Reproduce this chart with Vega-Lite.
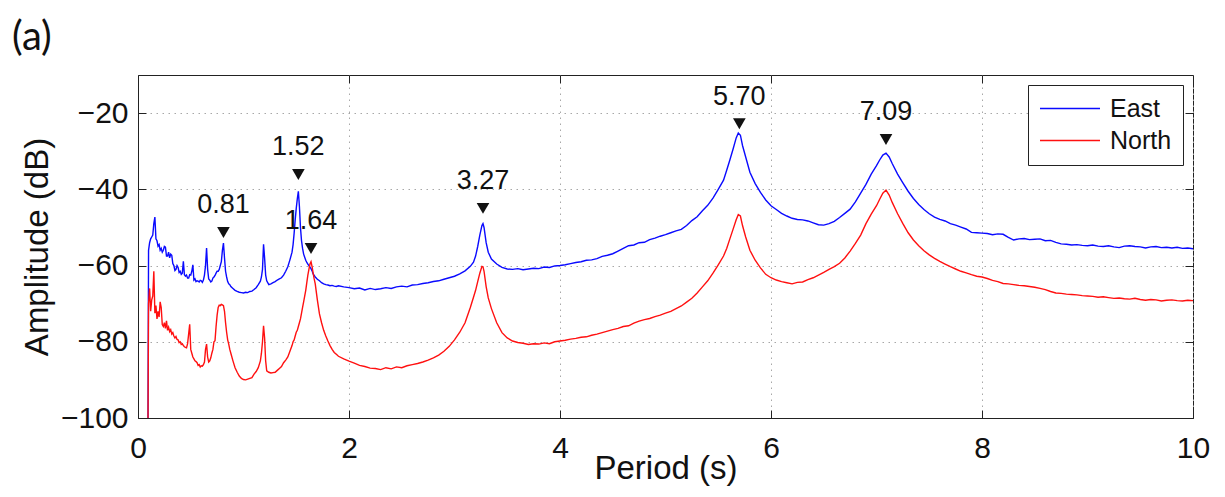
{
  "$schema": "https://vega.github.io/schema/vega-lite/v6.json",
  "width": 1055,
  "height": 343,
  "autosize": "none",
  "padding": {"left": 138, "top": 75, "right": 32, "bottom": 79},
  "background": "white",
  "title": {"text": "(a)", "anchor": "start", "frame": "group", "dx": -126, "dy": 43, "offset": 28, "baseline": "alphabetic", "font": "Lato", "fontSize": 40, "fontWeight": "normal", "color": "#111"},
  "config": {
    "view": {"stroke": "#222", "strokeWidth": 1},
    "axis": {
      "domainColor": "#222", "tickColor": "#222", "labelFont": "Liberation Sans", "titleFont": "Liberation Sans",
      "labelColor": "#111", "titleColor": "#111", "labelFontSize": 30, "titleFontSize": 33, "titleFontWeight": "normal",
      "gridDash": [1.5, 4.5], "gridColor": "#a8a8a8", "gridWidth": 1, "tickSize": -8, "labelFlush": false, "labelOverlap": false
    },
    "legend": {
      "orient": "top-right", "offset": 10, "strokeColor": "#222", "fillColor": "white", "padding": 11,
      "labelFont": "Liberation Sans", "labelFontSize": 25, "labelColor": "#111", "labelOffset": 9,
      "symbolType": "stroke", "symbolSize": 3600, "symbolStrokeWidth": 1.5, "clipHeight": 25, "rowPadding": 6
    }
  },
  "resolve": {"axis": {"x": "independent", "y": "independent"}},
  "layer": [
    {
      "data": {"values": [
        {"p":0.095,"East":-100,"North":-100},
        {"p":0.10,"East":-56,"North":-70},{"p":0.11,"East":-54,"North":-66},{"p":0.12,"East":-53,"North":-72},{"p":0.13,"East":-52.5,"North":-69},{"p":0.14,"East":-52,"North":-68},
        {"p":0.15,"East":-49,"North":-61.5},{"p":0.16,"East":-47.3,"North":-72.5},{"p":0.17,"East":-53,"North":-70.5},{"p":0.18,"East":-53.5,"North":-74},{"p":0.19,"East":-54.9,"North":-72},
        {"p":0.20,"East":-54.5,"North":-73.5},{"p":0.21,"East":-56,"North":-69.5},{"p":0.22,"East":-55.5,"North":-71},{"p":0.23,"East":-56.5,"North":-75.5},{"p":0.24,"East":-56,"North":-76},
        {"p":0.25,"East":-55,"North":-75},{"p":0.26,"East":-55.2,"North":-76.5},{"p":0.27,"East":-57.5,"North":-74.5},{"p":0.28,"East":-57.5,"North":-77},{"p":0.29,"East":-56.5,"North":-76.2},
        {"p":0.30,"East":-58,"North":-77.3},{"p":0.31,"East":-57,"North":-76.8},{"p":0.32,"East":-57.3,"North":-78},{"p":0.33,"East":-59.5,"North":-77.6},{"p":0.34,"East":-60,"North":-78.5},
        {"p":0.35,"East":-61.3,"North":-79},{"p":0.36,"East":-61,"North":-78.6},{"p":0.37,"East":-60,"North":-79.4},{"p":0.38,"East":-60.5,"North":-79.5},{"p":0.39,"East":-61.8,"North":-80.2},
        {"p":0.40,"East":-61.5,"North":-80},{"p":0.41,"East":-62.3,"North":-80.7},{"p":0.42,"East":-62,"North":-80.5},{"p":0.43,"East":-58.9,"North":-81},{"p":0.44,"East":-62.4,"North":-81.3},
        {"p":0.45,"East":-62.8,"North":-81.5},{"p":0.46,"East":-62.5,"North":-81.6},{"p":0.47,"East":-63.3,"North":-80.5},{"p":0.48,"East":-63.3,"North":-78},{"p":0.49,"East":-62.4,"North":-75.4},
        {"p":0.50,"East":-62.5,"North":-82},{"p":0.51,"East":-61.5,"North":-83},{"p":0.52,"East":-59.8,"North":-84},{"p":0.53,"East":-63.8,"North":-84.5},{"p":0.54,"East":-63.5,"North":-85},
        {"p":0.55,"East":-64.2,"North":-85.2},{"p":0.56,"East":-64,"North":-85.5},{"p":0.57,"East":-64.1,"North":-86.2},{"p":0.58,"East":-64.3,"North":-86},{"p":0.59,"East":-63.9,"North":-86.6},
        {"p":0.60,"East":-64,"North":-86.3},{"p":0.61,"East":-64.4,"North":-86.4},{"p":0.62,"East":-63.8,"North":-86},{"p":0.63,"East":-62.5,"North":-85.3},{"p":0.64,"East":-60,"North":-82},
        {"p":0.65,"East":-55.4,"North":-80.6},{"p":0.66,"East":-61,"North":-84},{"p":0.67,"East":-63.5,"North":-85.3},{"p":0.68,"East":-63.8,"North":-85},{"p":0.69,"East":-64.3,"North":-84.2},
        {"p":0.70,"East":-64.1,"North":-83},{"p":0.71,"East":-63.3,"North":-82},{"p":0.72,"East":-63,"North":-80},{"p":0.73,"East":-62.6,"North":-79.7},{"p":0.74,"East":-62,"North":-76},
        {"p":0.75,"East":-61.5,"North":-73},{"p":0.76,"East":-61.5,"North":-71},{"p":0.77,"East":-61,"North":-70.4},{"p":0.78,"East":-60,"North":-70.5},{"p":0.79,"East":-59,"North":-70.2},
        {"p":0.80,"East":-56,"North":-70.3},{"p":0.81,"East":-54.1,"North":-70.5},{"p":0.82,"East":-58,"North":-72},{"p":0.83,"East":-61.5,"North":-75},{"p":0.84,"East":-63,"North":-77.5},
        {"p":0.85,"East":-64.2,"North":-79.5},{"p":0.86,"East":-64.8,"North":-80.6},{"p":0.87,"East":-65,"North":-82},{"p":0.88,"East":-65.5,"North":-83},{"p":0.90,"East":-66,"North":-85},
        {"p":0.92,"East":-66.5,"North":-86.8},{"p":0.94,"East":-66.8,"North":-88},{"p":0.96,"East":-67,"North":-89},{"p":0.98,"East":-67.1,"North":-89.6},{"p":1.00,"East":-67.2,"North":-89.9},
        {"p":1.02,"East":-67,"North":-90},{"p":1.04,"East":-67.1,"North":-89.8},{"p":1.06,"East":-66.8,"North":-89.6},{"p":1.08,"East":-66.7,"North":-89.4},{"p":1.10,"East":-66.3,"North":-88.5},
        {"p":1.12,"East":-65.8,"North":-87.8},{"p":1.14,"East":-65,"North":-86.8},{"p":1.16,"East":-64.1,"North":-85},{"p":1.17,"East":-63,"North":-83},{"p":1.18,"East":-61,"North":-80},
        {"p":1.19,"East":-54.4,"North":-75.8},{"p":1.20,"East":-58,"North":-79},{"p":1.21,"East":-62.5,"North":-85},{"p":1.22,"East":-64,"North":-87.6},{"p":1.24,"East":-65,"North":-88},
        {"p":1.26,"East":-64.8,"North":-88.2},{"p":1.28,"East":-64.5,"North":-88.1},{"p":1.30,"East":-64.2,"North":-88},{"p":1.32,"East":-63.8,"North":-87.5},{"p":1.34,"East":-63.5,"North":-87},
        {"p":1.36,"East":-63.2,"North":-86.5},{"p":1.38,"East":-62.5,"North":-85.5},{"p":1.40,"East":-61.5,"North":-84.8},{"p":1.42,"East":-60.3,"North":-84},{"p":1.44,"East":-58.5,"North":-82.5},
        {"p":1.46,"East":-56.5,"North":-81},{"p":1.47,"East":-54.5,"North":-80},{"p":1.48,"East":-51.5,"North":-79.5},{"p":1.49,"East":-48,"North":-78.5},{"p":1.50,"East":-45,"North":-77.5},
        {"p":1.51,"East":-42.5,"North":-77},{"p":1.52,"East":-40.5,"North":-76},{"p":1.53,"East":-44.5,"North":-75},{"p":1.54,"East":-50,"North":-74},{"p":1.55,"East":-53.5,"North":-72.5},
        {"p":1.56,"East":-55.5,"North":-71},{"p":1.57,"East":-57,"North":-69.5},{"p":1.58,"East":-57.8,"North":-68},{"p":1.59,"East":-58.6,"North":-66.5},{"p":1.60,"East":-59.2,"North":-64.5},
        {"p":1.61,"East":-59.6,"North":-62.5},{"p":1.62,"East":-60,"North":-61},{"p":1.63,"East":-60.4,"North":-59.6},{"p":1.64,"East":-60.8,"North":-59},{"p":1.65,"East":-61.4,"North":-60.3},
        {"p":1.66,"East":-62.2,"North":-62},{"p":1.67,"East":-62.6,"North":-63.5},{"p":1.68,"East":-63,"North":-64.8},{"p":1.70,"East":-63.6,"North":-69},{"p":1.72,"East":-64,"North":-72.7},
        {"p":1.74,"East":-64.5,"North":-75},{"p":1.76,"East":-64.8,"North":-77},{"p":1.78,"East":-65,"North":-78.5},{"p":1.80,"East":-65.1,"North":-79.8},{"p":1.82,"East":-65.3,"North":-81},
        {"p":1.84,"East":-65.2,"North":-82},{"p":1.86,"East":-65.4,"North":-82.8},{"p":1.88,"East":-65.5,"North":-83.3},{"p":1.90,"East":-65.3,"North":-83.8},
        {"p":1.95,"East":-65.6,"North":-84.5},{"p":2.00,"East":-65.8,"North":-85.1},{"p":2.05,"East":-66.1,"North":-85.6},{"p":2.10,"East":-65.9,"North":-86.2},{"p":2.15,"East":-66.4,"North":-86.5},
        {"p":2.20,"East":-66.0,"North":-86.9},{"p":2.25,"East":-66.3,"North":-87.0},{"p":2.30,"East":-66.1,"North":-87.3},{"p":2.35,"East":-65.8,"North":-86.8},{"p":2.40,"East":-66.0,"North":-87.1},
        {"p":2.45,"East":-65.6,"North":-86.6},{"p":2.50,"East":-65.4,"North":-86.8},{"p":2.55,"East":-65.6,"North":-86.3},{"p":2.60,"East":-65.1,"North":-86.0},{"p":2.65,"East":-65.0,"North":-85.7},
        {"p":2.70,"East":-64.7,"North":-85.3},{"p":2.75,"East":-64.5,"North":-84.8},{"p":2.80,"East":-64.2,"North":-84.2},{"p":2.85,"East":-64.0,"North":-83.5},{"p":2.90,"East":-63.6,"North":-82.5},
        {"p":2.95,"East":-63.2,"North":-81.2},{"p":3.00,"East":-62.8,"North":-79.5},{"p":3.05,"East":-62.2,"North":-77.5},{"p":3.10,"East":-61.4,"North":-75},{"p":3.15,"East":-60.2,"North":-71},
        {"p":3.18,"East":-59.1,"North":-68.3},{"p":3.20,"East":-57.5,"North":-66.5},{"p":3.22,"East":-55,"North":-64.2},{"p":3.24,"East":-52,"North":-62},{"p":3.26,"East":-49.5,"North":-60.2},
        {"p":3.27,"East":-49.0,"North":-60.3},{"p":3.28,"East":-50,"North":-61.5},{"p":3.30,"East":-54,"North":-65.5},{"p":3.32,"East":-56.5,"North":-68.5},{"p":3.35,"East":-58.3,"North":-71.3},
        {"p":3.40,"East":-59.6,"North":-75},{"p":3.45,"East":-60.5,"North":-77.6},{"p":3.50,"East":-60.9,"North":-79},{"p":3.55,"East":-61.0,"North":-79.8},{"p":3.60,"East":-60.8,"North":-80.2},
        {"p":3.65,"East":-61.1,"North":-80.4},{"p":3.70,"East":-60.9,"North":-80.7},{"p":3.75,"East":-60.7,"North":-80.5},{"p":3.80,"East":-60.8,"North":-80.6},{"p":3.85,"East":-60.4,"North":-80.3},
        {"p":3.90,"East":-60.5,"North":-80.5},{"p":3.95,"East":-60.1,"North":-80.0},{"p":4.00,"East":-60.0,"North":-79.8},{"p":4.05,"East":-59.8,"North":-79.6},{"p":4.10,"East":-59.5,"North":-79.3},
        {"p":4.15,"East":-59.2,"North":-79.1},{"p":4.20,"East":-59.0,"North":-78.8},{"p":4.25,"East":-58.6,"North":-78.7},{"p":4.30,"East":-58.5,"North":-78.3},{"p":4.35,"East":-58.2,"North":-78.0},
        {"p":4.40,"East":-57.6,"North":-77.6},{"p":4.45,"East":-57.3,"North":-77.2},{"p":4.50,"East":-56.9,"North":-76.8},{"p":4.55,"East":-56.2,"North":-76.5},{"p":4.60,"East":-55.5,"North":-76.0},
        {"p":4.65,"East":-54.8,"North":-75.8},{"p":4.70,"East":-54.6,"North":-75.1},{"p":4.75,"East":-54.0,"North":-74.6},{"p":4.80,"East":-53.9,"North":-74.2},{"p":4.85,"East":-53.2,"North":-73.9},
        {"p":4.90,"East":-52.8,"North":-73.4},{"p":4.95,"East":-52.3,"North":-73.0},{"p":5.00,"East":-51.9,"North":-72.5},{"p":5.05,"East":-51.4,"North":-72.0},{"p":5.10,"East":-50.9,"North":-71.3},
        {"p":5.15,"East":-50.5,"North":-70.6},{"p":5.20,"East":-49.5,"North":-69.6},{"p":5.25,"East":-48.2,"North":-68.6},{"p":5.30,"East":-47.2,"North":-67.2},{"p":5.35,"East":-45.6,"North":-65.6},
        {"p":5.40,"East":-44.2,"North":-64.0},{"p":5.45,"East":-42.3,"North":-62.0},{"p":5.50,"East":-40.0,"North":-59.8},{"p":5.55,"East":-37.6,"North":-57.5},{"p":5.58,"East":-35,"North":-55.5},
        {"p":5.61,"East":-32.3,"North":-53},{"p":5.64,"East":-29.5,"North":-50.5},{"p":5.67,"East":-26.5,"North":-48},{"p":5.69,"East":-25.2,"North":-46.6},{"p":5.71,"East":-25.8,"North":-47},
        {"p":5.73,"East":-28.5,"North":-49.5},{"p":5.76,"East":-31.5,"North":-52.5},{"p":5.80,"East":-35.5,"North":-56},{"p":5.85,"East":-38.5,"North":-58.6},{"p":5.90,"East":-40.8,"North":-60.6},
        {"p":5.95,"East":-42.8,"North":-62.3},{"p":6.00,"East":-44.3,"North":-63.2},{"p":6.05,"East":-45.3,"North":-63.8},{"p":6.10,"East":-46.3,"North":-64.2},{"p":6.15,"East":-47.0,"North":-64.5},
        {"p":6.20,"East":-47.6,"North":-64.8},{"p":6.25,"East":-47.9,"North":-64.4},{"p":6.30,"East":-48.0,"North":-64.3},{"p":6.35,"East":-48.3,"North":-63.7},{"p":6.40,"East":-48.8,"North":-63.2},
        {"p":6.45,"East":-49.3,"North":-62.5},{"p":6.50,"East":-49.4,"North":-61.8},{"p":6.55,"East":-49.0,"North":-61.0},{"p":6.60,"East":-48.4,"North":-60.3},{"p":6.65,"East":-47.4,"North":-59.4},
        {"p":6.70,"East":-46.3,"North":-58.0},{"p":6.75,"East":-45.2,"North":-56.2},{"p":6.80,"East":-43.3,"North":-54.2},{"p":6.85,"East":-41.0,"North":-52.0},{"p":6.90,"East":-38.7,"North":-49.0},
        {"p":6.95,"East":-36.0,"North":-46.5},{"p":7.00,"East":-33.8,"North":-44.3},{"p":7.03,"East":-32.3,"North":-42.6},{"p":7.06,"East":-31.0,"North":-41.0},{"p":7.09,"East":-30.5,"North":-40.2},
        {"p":7.12,"East":-31.5,"North":-41.5},{"p":7.15,"East":-33.3,"North":-43.5},{"p":7.20,"East":-36.0,"North":-46.4},{"p":7.25,"East":-38.3,"North":-49.0},{"p":7.30,"East":-40.5,"North":-51.4},
        {"p":7.35,"East":-42.4,"North":-53.3},{"p":7.40,"East":-44.0,"North":-54.8},{"p":7.45,"East":-45.3,"North":-56.1},{"p":7.50,"East":-46.4,"North":-57.2},{"p":7.55,"East":-47.3,"North":-58.1},
        {"p":7.60,"East":-47.9,"North":-58.9},{"p":7.65,"East":-48.3,"North":-59.6},{"p":7.70,"East":-49.0,"North":-60.3},{"p":7.75,"East":-49.4,"North":-60.9},{"p":7.80,"East":-49.9,"North":-61.5},
        {"p":7.85,"East":-50.4,"North":-61.9},{"p":7.90,"East":-51.3,"North":-62.4},{"p":7.95,"East":-51.4,"North":-62.8},{"p":8.00,"East":-51.5,"North":-63.0},{"p":8.05,"East":-51.6,"North":-63.4},
        {"p":8.10,"East":-51.9,"North":-63.9},{"p":8.15,"East":-51.7,"North":-64.2},{"p":8.20,"East":-51.8,"North":-64.7},{"p":8.25,"East":-52.6,"North":-64.8},{"p":8.30,"East":-53.3,"North":-65.0},
        {"p":8.35,"East":-53.0,"North":-65.2},{"p":8.40,"East":-52.9,"North":-65.3},{"p":8.45,"East":-53.2,"North":-65.5},{"p":8.50,"East":-53.1,"North":-65.7},{"p":8.55,"East":-53.0,"North":-66.0},
        {"p":8.60,"East":-53.5,"North":-66.3},{"p":8.65,"East":-53.4,"North":-66.8},{"p":8.70,"East":-53.9,"North":-67.2},{"p":8.75,"East":-54.3,"North":-67.3},{"p":8.80,"East":-54.4,"North":-67.5},
        {"p":8.85,"East":-54.6,"North":-67.6},{"p":8.90,"East":-54.5,"North":-67.7},{"p":8.95,"East":-54.7,"North":-67.9},{"p":9.00,"East":-54.8,"North":-68.0},{"p":9.05,"East":-54.6,"North":-68.1},
        {"p":9.10,"East":-54.9,"North":-68.3},{"p":9.15,"East":-55.0,"North":-68.2},{"p":9.20,"East":-54.8,"North":-68.4},{"p":9.25,"East":-55.1,"North":-68.6},{"p":9.30,"East":-55.3,"North":-68.5},
        {"p":9.35,"East":-54.9,"North":-68.7},{"p":9.40,"East":-54.8,"North":-68.8},{"p":9.45,"East":-55.0,"North":-68.6},{"p":9.50,"East":-55.1,"North":-68.9},{"p":9.55,"East":-55.4,"North":-69.1},
        {"p":9.60,"East":-55.1,"North":-68.9},{"p":9.65,"East":-55.0,"North":-69.0},{"p":9.70,"East":-55.3,"North":-69.3},{"p":9.75,"East":-55.2,"North":-69.1},{"p":9.80,"East":-55.4,"North":-69.0},
        {"p":9.85,"East":-55.2,"North":-69.2},{"p":9.90,"East":-55.5,"North":-69.3},{"p":9.95,"East":-55.4,"North":-69.1},{"p":10.00,"East":-55.6,"North":-69.2}
      ]},
      "transform": [{"fold": ["East", "North"], "as": ["series", "amp"]}],
      "mark": {"type": "line", "strokeWidth": 1.4, "clip": true},
      "encoding": {
        "x": {"field": "p", "type": "quantitative", "scale": {"domain": [0, 10], "nice": false, "zero": false},
              "axis": {"orient": "bottom", "values": [0, 2, 4, 6, 8, 10], "format": "d", "title": "Period (s)", "labelPadding": 23, "titleY": 50, "titleBaseline": "middle", "grid": true}},
        "y": {"field": "amp", "type": "quantitative", "scale": {"domain": [-100, -10], "nice": false, "zero": false},
              "axis": {"orient": "left", "values": [-100, -80, -60, -40, -20], "format": "d", "title": "Amplitude (dB)", "labelPadding": 18, "titlePadding": 6, "grid": true}},
        "color": {"field": "series", "type": "nominal", "scale": {"domain": ["East", "North"], "range": ["#0a0aff", "#ff1010"]}, "legend": {"title": null}}
      }
    },
    {
      "data": {"name": "peaks", "values": [
        {"period": 0.81, "amp": -51.3, "label": "0.81"},
        {"period": 1.52, "amp": -36.1, "label": "1.52"},
        {"period": 1.64, "amp": -55.5, "label": "1.64"},
        {"period": 3.27, "amp": -45.0, "label": "3.27"},
        {"period": 5.70, "amp": -22.8, "label": "5.70"},
        {"period": 7.09, "amp": -26.9, "label": "7.09"}
      ]},
      "mark": {"type": "point", "shape": "triangle-down", "filled": true, "size": 160, "color": "#111", "opacity": 1},
      "encoding": {
        "x": {"field": "period", "type": "quantitative", "scale": {"domain": [0, 10], "nice": false, "zero": false},
              "axis": {"orient": "top", "values": [0, 2, 4, 6, 8, 10], "labels": false, "grid": false, "domain": false, "title": null}},
        "y": {"field": "amp", "type": "quantitative", "scale": {"domain": [-100, -10], "nice": false, "zero": false},
              "axis": {"orient": "right", "values": [-100, -80, -60, -40, -20], "labels": false, "grid": false, "domain": false, "title": null}}
      }
    },
    {
      "data": {"name": "peaks"},
      "mark": {"type": "text", "dy": -27, "baseline": "middle", "align": "center", "font": "Liberation Sans", "fontSize": 27, "color": "#111"},
      "encoding": {
        "x": {"field": "period", "type": "quantitative", "axis": null},
        "y": {"field": "amp", "type": "quantitative", "axis": null},
        "text": {"field": "label"}
      }
    }
  ]
}
